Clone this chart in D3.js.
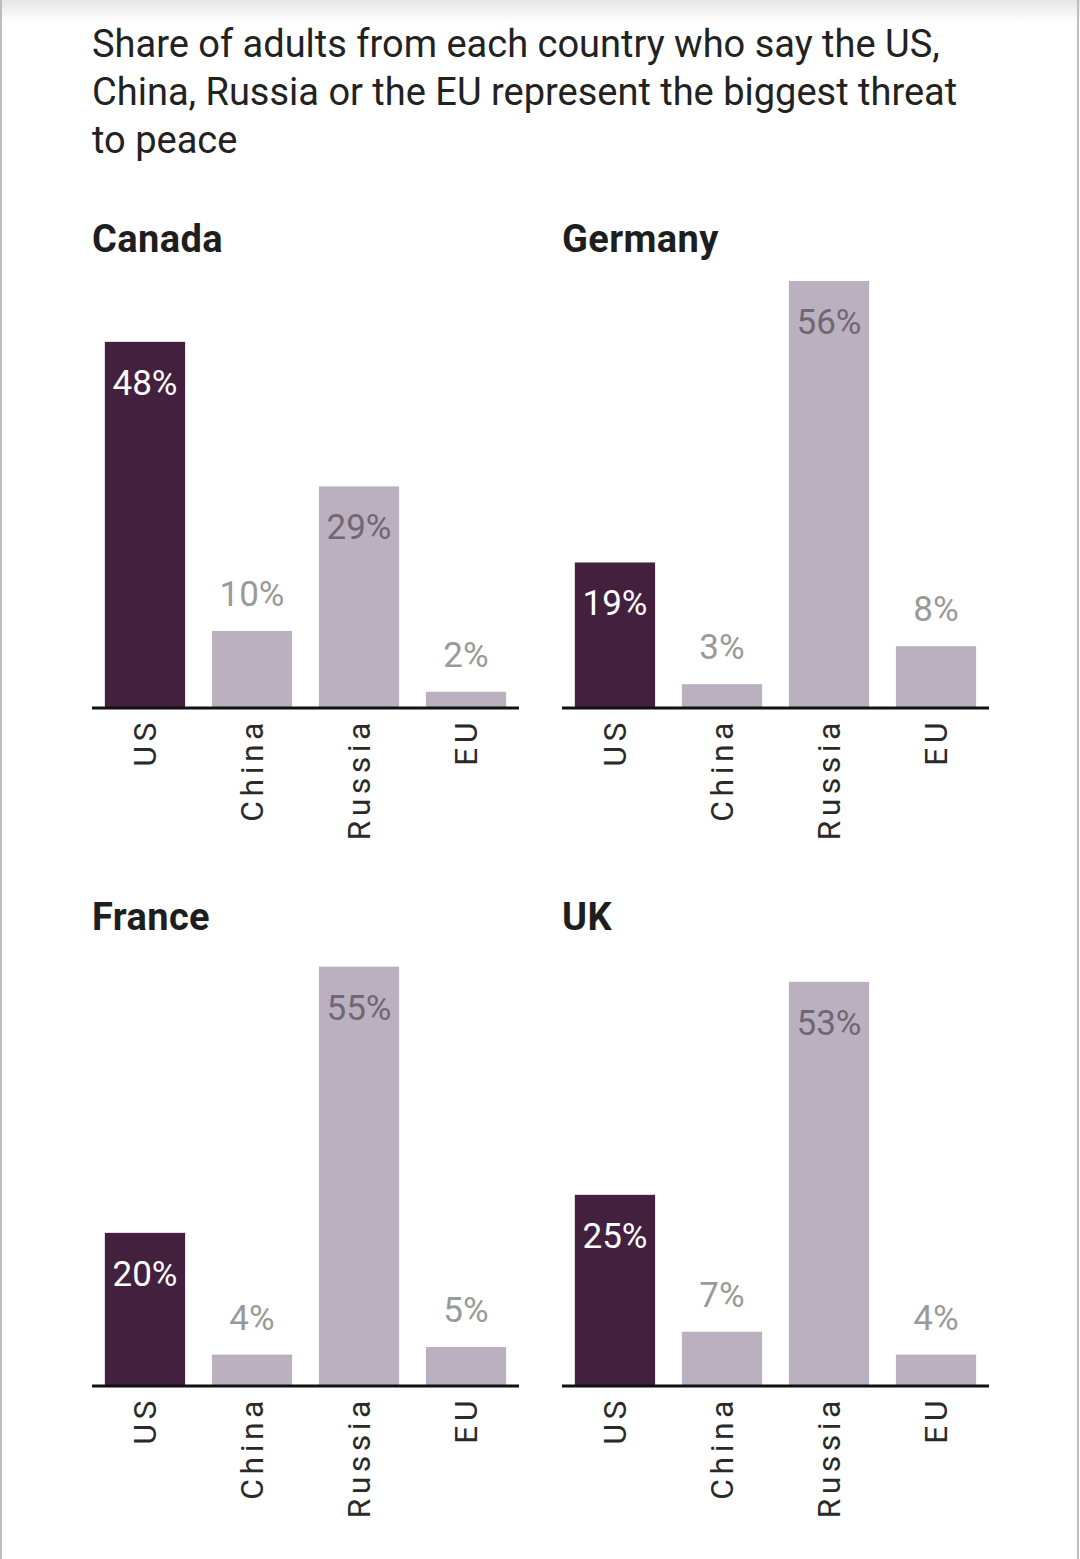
<!DOCTYPE html>
<html>
<head>
<meta charset="utf-8">
<script src="https://cdn.jsdelivr.net/npm/d3@7"></script>
<style>
  body { margin: 0; background: #fff; }
  svg { display: block; }
</style>
</head>
<body>
<svg id="chart"></svg>
<script>
var width = 1080;
var height = 1559;

// data
var titleLines = ["Share of adults from each country who say the US,",
                  "China, Russia or the EU represent the biggest threat",
                  "to peace"];
var countries = ["Canada", "Germany", "France", "UK"];
var threats = ["US", "China", "Russia", "EU"];
var canadaValues = [48, 10, 29, 2];
var germanyValues = [19, 3, 56, 8];
var franceValues = [20, 4, 55, 5];
var ukValues = [25, 7, 53, 4];
var allValues = [canadaValues, germanyValues, franceValues, ukValues];

var darkColor = "#44203f";
var lightColor = "#bbb0bf";
var fontFam = "Roboto, 'DejaVu Sans', sans-serif";

var panelWidth = 427;
var panelLeft = [92, 562];
var axisY = [707, 1385];   // baseline of each row
var labelThreshold = 15;    // tall bars get the label inside

var svg = d3.select("#chart")
    .attr("width", width)
    .attr("height", height);

// top shadow + side borders
var defs = svg.append("defs");
var grad = defs.append("linearGradient")
    .attr("id", "topShade")
    .attr("x1", 0).attr("x2", 0).attr("y1", 0).attr("y2", 1);
grad.append("stop").attr("offset", "0%").attr("stop-color", "#e6e6e6");
grad.append("stop").attr("offset", "100%").attr("stop-color", "#ffffff");
svg.append("rect").attr("x", 0).attr("y", 0).attr("width", width).attr("height", 22)
    .attr("fill", "url(#topShade)");
svg.append("rect").attr("x", 0).attr("y", 0).attr("width", 2).attr("height", height).attr("fill", "#bdbdbd");
svg.append("rect").attr("x", width - 3).attr("y", 0).attr("width", 2).attr("height", height).attr("fill", "#bdbdbd");

// title
svg.append("g").selectAll("text")
    .data(titleLines)
    .join("text")
    .attr("x", 92)
    .attr("y", function(d, i){ return 57 + i * 48; })
    .attr("font-family", fontFam)
    .attr("font-size", 38)
    .attr("fill", "#222")
    .text(function(d){ return d; });

var x = d3.scaleBand()
    .domain(threats)
    .range([0, panelWidth])
    .paddingInner(0.25)
    .paddingOuter(0.12);

var y = d3.scaleLinear()
    .domain([0, 56])
    .range([0, 426]);

countries.forEach(function(name, ci){
    var col = ci % 2;
    var row = Math.floor(ci / 2);
    var g = svg.append("g")
        .attr("transform", "translate(" + panelLeft[col] + "," + axisY[row] + ")");
    var vals = allValues[ci];

    // panel title
    g.append("text")
        .attr("x", 0)
        .attr("y", -455)
        .attr("font-family", fontFam)
        .attr("font-weight", "bold")
        .attr("font-size", 38)
        .attr("letter-spacing", 0.4)
        .attr("fill", "#1e1e1e")
        .text(name);

    // bars
    g.selectAll("rect.bar")
        .data(vals)
        .join("rect")
        .attr("class", "bar")
        .attr("x", function(d, i){ return x(threats[i]); })
        .attr("y", function(d){ return -y(d); })
        .attr("width", x.bandwidth())
        .attr("height", function(d){ return y(d); })
        .attr("fill", function(d, i){ return i == 0 ? darkColor : lightColor; });

    // value labels
    g.selectAll("text.val")
        .data(vals)
        .join("text")
        .attr("class", "val")
        .attr("x", function(d, i){ return x(threats[i]) + x.bandwidth() / 2; })
        .attr("y", function(d){
            return d >= labelThreshold ? -y(d) + 53 : -y(d) - 25;
        })
        .attr("text-anchor", "middle")
        .attr("font-family", fontFam)
        .attr("font-size", 35)
        .attr("fill", function(d, i){
            if (i == 0) return "#ffffff";
            return d >= labelThreshold ? "#6f6873" : "#999999";
        })
        .text(function(d){ return d + "%"; });

    // axis line
    g.append("line")
        .attr("x1", 0).attr("x2", panelWidth)
        .attr("y1", 1).attr("y2", 1)
        .attr("stroke", "#111")
        .attr("stroke-width", 3);

    // rotated category labels
    g.selectAll("text.cat")
        .data(threats)
        .join("text")
        .attr("class", "cat")
        .attr("transform", function(d){
            return "translate(" + (x(d) + x.bandwidth() / 2) + ",11) rotate(-90)";
        })
        .attr("text-anchor", "end")
        .attr("dominant-baseline", "central")
        .attr("font-family", fontFam)
        .attr("font-size", 32)
        .attr("letter-spacing", 4.5)
        .attr("fill", "#2a2a2a")
        .text(function(d){ return d; });
});
</script>
</body>
</html>
